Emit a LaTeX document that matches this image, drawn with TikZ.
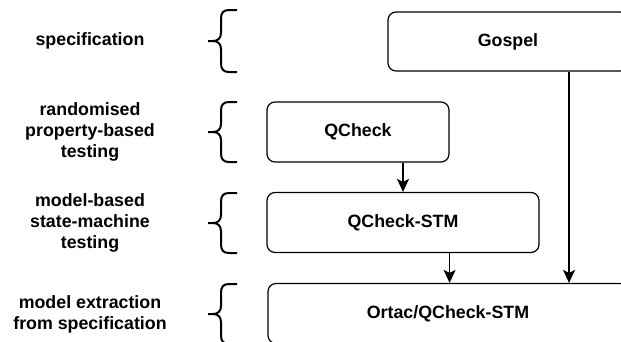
\documentclass[tikz,border=0pt]{standalone}
\usepackage{fontspec}
\setmainfont{Liberation Sans}
\usetikzlibrary{arrows.meta,calc}
\tikzset{
  lbl/.style={font=\fontsize{17.8}{21}\selectfont\bfseries, align=center, inner sep=0pt},
  stage/.style={draw, line width=1.2pt, rounded corners=8pt, inner sep=0pt,
    font=\fontsize{17.8}{21}\selectfont\bfseries},
  arr/.style={line width=1.2pt, -{Stealth[length=13pt,width=12pt,inset=3pt]}},
  bracestyle/.style={line width=2pt, line join=round}
}
\newcommand{\mybrace}[2]{%
  \pgfmathsetmacro\bt{#1}\pgfmathsetmacro\bb{#2}\pgfmathsetmacro\bm{(#1+#2)/2}%
  \draw[bracestyle] (237,\bt) -- (229,\bt) .. controls (223,\bt) and (221,\bt+3) .. (221,\bt+9)
    -- (221,\bm-8) .. controls (221,\bm-3) and (218,\bm) .. (213,\bm) -- (208,\bm);
  \draw[bracestyle] (213,\bm) .. controls (218,\bm) and (221,\bm+3) .. (221,\bm+8)
    -- (221,\bb-9) .. controls (221,\bb-3) and (223,\bb) .. (229,\bb) -- (237,\bb);
}
\begin{document}
\begin{tikzpicture}[x=1pt,y=-1pt]
  \useasboundingbox (0,0) rectangle (621,341);
  \clip (0,0) rectangle (621,341);
  \fill[white] (0,0) rectangle (621,341);

  % labels
  \node[lbl] (l1) at (90,41) {specification};
  \node[lbl] (l2) at (90,132) {randomised\\property-based\\testing};
  \node[lbl] (l3) at (90,223) {model-based\\state-machine\\testing};
  \node[lbl] (l4) at (90,314) {model extraction\\from specification};

  % braces
  \mybrace{10}{72}
  \mybrace{102}{162}
  \mybrace{193}{253}
  \mybrace{284}{344}

  % boxes
  \node[stage, minimum width=240pt, minimum height=59pt] (gospel) at (508,41.5) {Gospel};
  \node[stage, minimum width=182pt, minimum height=60pt] (qcheck) at (358,132) {QCheck};
  \node[stage, minimum width=272pt, minimum height=60pt] (qstm) at (403,222.5) {QCheck-STM};
  \node[stage, minimum width=360pt, minimum height=60pt] (ortac) at (448,313.5) {Ortac/QCheck-STM};

  % arrows
  \draw[arr] (qcheck.south -| qstm.north) -- (qstm.north);
  \draw[arr] (qstm.south -| qcheck.east) -- (ortac.north -| qcheck.east);
  \draw[arr] ([xshift=61pt]gospel.south) -- ([xshift=61pt]gospel.south |- ortac.north);
\end{tikzpicture}
\end{document}
